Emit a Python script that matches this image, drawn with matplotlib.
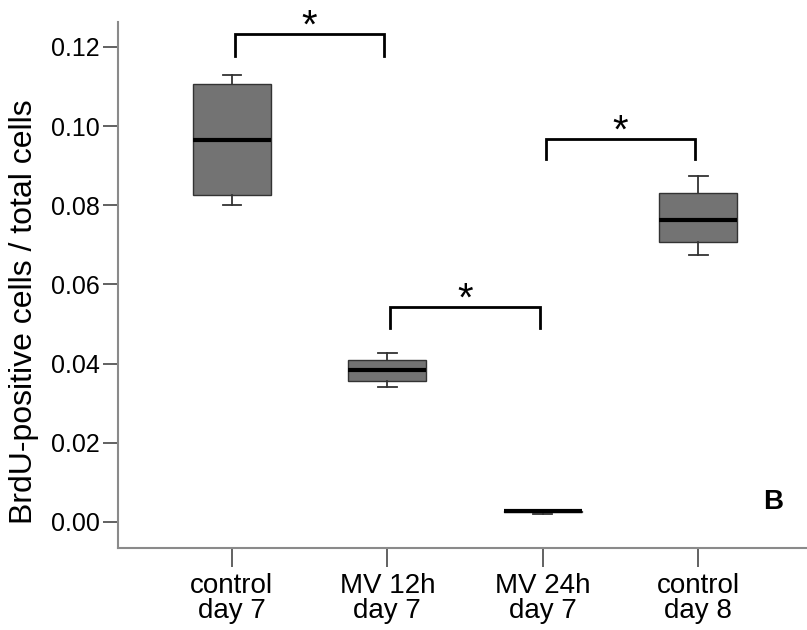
import matplotlib
matplotlib.use("Agg")
import matplotlib.pyplot as plt

# ---- data ----
categories = ["control\nday 7", "MV 12h\nday 7", "MV 24h\nday 7", "control\nday 8"]
whisker_low = [0.0800, 0.0340, 0.0020, 0.0675]
q1 = [0.0825, 0.0357, 0.0025, 0.0706]
median = [0.0964, 0.0385, 0.0027, 0.0762]
q3 = [0.1106, 0.0408, 0.0028, 0.0832]
whisker_high = [0.1129, 0.0428, 0.0029, 0.0873]
y_ticks = [0.00, 0.02, 0.04, 0.06, 0.08, 0.10, 0.12]
y_label = "BrdU-positive cells / total cells"
# significance brackets: (left group, right group, bracket top, leg bottom)
sig_pairs = [(0, 1), (1, 2), (2, 3)]
sig_top = [0.1233, 0.0544, 0.0967]
sig_leg = [0.1176, 0.0491, 0.0916]
sig_text = "*"
panel_label = "B"

plt.rcParams['font.family'] = ['Liberation Sans', 'DejaVu Sans']

fig = plt.figure(figsize=(8.07, 6.3), dpi=100)
ax = fig.add_axes([0.1462, 0.1302, 0.8538, 0.835])

stats = []
for i in range(len(categories)):
    stats.append(dict(med=median[i], q1=q1[i], q3=q3[i],
                      whislo=whisker_low[i], whishi=whisker_high[i], fliers=[]))

pos = list(range(len(categories)))
ax.bxp(stats, positions=pos, widths=0.5, patch_artist=True, showfliers=False,
       boxprops=dict(facecolor="#737373", edgecolor="#333333", linewidth=1.0),
       medianprops=dict(color="black", linewidth=3),
       whiskerprops=dict(color="#333333", linewidth=1.3),
       capprops=dict(color="#333333", linewidth=1.3),
       capwidths=0.12)

# significance brackets
for (a, b), top, leg in zip(sig_pairs, sig_top, sig_leg):
    xa, xb = a + 0.02, b - 0.02
    ax.plot([xa, xa, xb, xb], [leg, top, top, leg], color="black", lw=2,
            solid_joinstyle="miter", clip_on=False)
    ax.text((xa + xb) / 2, top - 0.0010, sig_text, ha="center", va="baseline",
            fontsize=29, color="black", clip_on=False)

ax.set_xlim(-0.733, 3.70)
ax.set_ylim(-0.00657, 0.1263)
ax.set_yticks(y_ticks)
ax.set_yticklabels([f"{v:.2f}" for v in y_ticks])
ax.set_xticks(pos)
ax.set_xticklabels(categories, linespacing=0.95)
ax.set_ylabel(y_label, fontsize=23)
ax.yaxis.set_label_coords(-0.1145, 0.45)

for s in ["top", "right"]:
    ax.spines[s].set_visible(False)
for s in ["left", "bottom"]:
    ax.spines[s].set_color("#8a8a8a")
    ax.spines[s].set_linewidth(1.5)
ax.tick_params(axis="y", length=11, width=1.3, color="#555555", labelsize=18, pad=2)
ax.tick_params(axis="x", length=14, width=1.3, color="#555555", labelsize=20, pad=4)

ax.text(0.951, 0.0875, panel_label, transform=ax.transAxes, fontsize=20,
        fontweight="bold", ha="center", va="center")

fig.savefig("out.png", dpi=100)
